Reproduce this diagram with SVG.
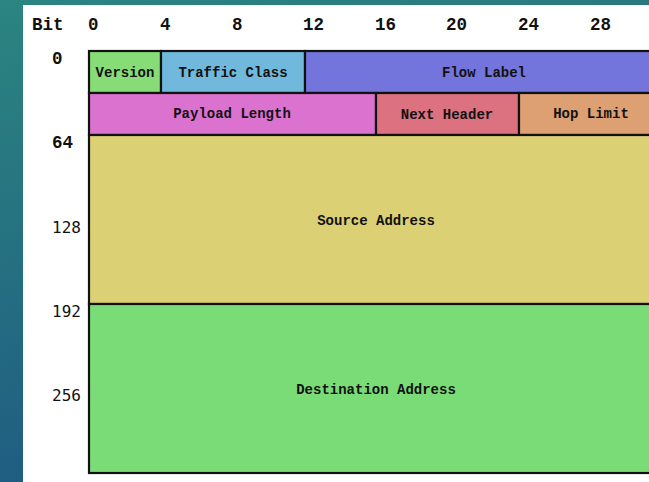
<svg xmlns="http://www.w3.org/2000/svg" width="649" height="482" viewBox="0 0 649 482">
<defs>
<linearGradient id="bg" x1="0" y1="0" x2="0.3" y2="1">
<stop offset="0" stop-color="#2b8580"/>
<stop offset="1" stop-color="#1f5a82"/>
</linearGradient>
<style>
.f{stroke:#111;stroke-width:2.2}
.t{font-family:"Liberation Mono","Courier New",monospace;font-weight:bold;font-size:14px;fill:#111;text-anchor:middle}
.h{font-family:"Liberation Mono","Courier New",monospace;font-weight:bold;font-size:17.5px;fill:#111}
.s{font-family:"DejaVu Sans Mono",monospace;font-size:16px;fill:#111}
</style>
</defs>
<rect x="0" y="0" width="649" height="482" fill="url(#bg)"/>
<rect x="23" y="5" width="626" height="477" fill="#ffffff"/>
<g id="bit-axis">
<text class="h" x="32" y="30">Bit</text>
<text class="h" x="88" y="30">0</text>
<text class="h" x="160" y="30">4</text>
<text class="h" x="232" y="30">8</text>
<text class="h" x="303" y="30">12</text>
<text class="h" x="375" y="30">16</text>
<text class="h" x="446" y="30">20</text>
<text class="h" x="518" y="30">24</text>
<text class="h" x="590" y="30">28</text>
</g>
<g id="row-axis">
<text class="h" x="52" y="64">0</text>
<text class="h" x="52" y="148">64</text>
<text class="s" x="52" y="233">128</text>
<text class="s" x="52" y="317">192</text>
<text class="s" x="52" y="401">256</text>
</g>
<g id="version"><rect class="f" x="89" y="51" width="72" height="42" fill="#88dc77"/><text class="t" x="125" y="77">Version</text></g>
<g id="traffic-class"><rect class="f" x="161" y="51" width="144" height="42" fill="#70b9dc"/><text class="t" x="233" y="77">Traffic Class</text></g>
<g id="flow-label"><rect class="f" x="305" y="51" width="360" height="42" fill="#7374dc"/><text class="t" x="484" y="77">Flow Label</text></g>
<g id="payload-length"><rect class="f" x="89" y="93" width="287" height="42" fill="#dc72d0"/><text class="t" x="232" y="118">Payload Length</text></g>
<g id="next-header"><rect class="f" x="376" y="93" width="143" height="42" fill="#dc7280"/><text class="t" x="447" y="119">Next Header</text></g>
<g id="hop-limit"><rect class="f" x="519" y="93" width="146" height="42" fill="#dca072"/><text class="t" x="591" y="118">Hop Limit</text></g>
<g id="source-address"><rect class="f" x="89" y="135" width="576" height="169" fill="#dcd074"/><text class="t" x="376" y="225">Source Address</text></g>
<g id="destination-address"><rect class="f" x="89" y="304" width="576" height="169" fill="#7adc77"/><text class="t" x="376" y="394">Destination Address</text></g>
</svg>
